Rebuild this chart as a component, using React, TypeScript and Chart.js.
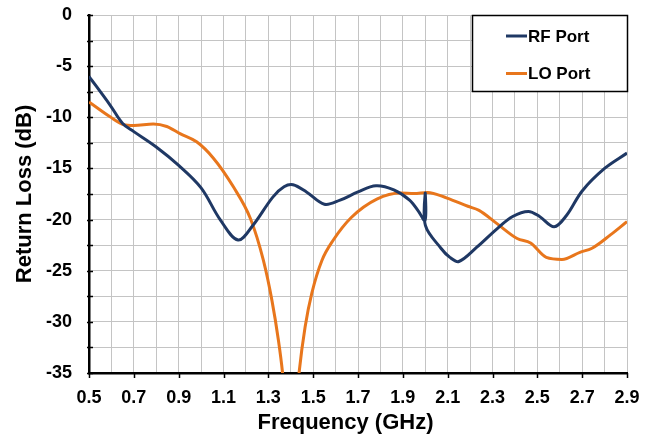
import React, { useEffect, useRef } from 'react';
import { Chart, registerables } from 'chart.js';

Chart.register(...registerables);

const seriesNames = ['RF Port', 'LO Port'];
const seriesColors = ['#1f3864', '#e8761c'];

const rfFreq = [0.5, 0.594, 0.65, 0.7, 0.8, 0.9, 1.0, 1.085, 1.165, 1.23, 1.32, 1.37, 1.41, 1.47, 1.55, 1.62, 1.7, 1.78, 1.86, 1.93, 1.97, 1.999, 2.0, 2.001, 2.07, 2.11, 2.15, 2.23, 2.32, 2.39, 2.46, 2.51, 2.575, 2.63, 2.7, 2.8, 2.9];
const rfLoss = [-6.0, -8.8, -10.6, -11.4, -12.9, -14.7, -16.9, -20.0, -22.0, -20.6, -17.8, -16.8, -16.6, -17.3, -18.5, -18.1, -17.3, -16.7, -17.1, -18.1, -19.2, -20.1, -17.4, -20.6, -22.8, -23.7, -24.1, -22.7, -20.9, -19.7, -19.2, -19.7, -20.7, -19.6, -17.2, -15.0, -13.5];

const loFreq = [0.5, 0.594, 0.653, 0.7, 0.787, 0.847, 0.906, 0.98, 1.055, 1.144, 1.22, 1.278, 1.316, 1.345, 1.363, 1.4, 1.4375, 1.464, 1.494, 1.539, 1.59, 1.67, 1.784, 1.89, 1.95, 2.01, 2.097, 2.19, 2.24, 2.32, 2.41, 2.47, 2.54, 2.61, 2.69, 2.744, 2.826, 2.9];
const loLoss = [-8.5, -9.95, -10.7, -10.8, -10.65, -10.9, -11.6, -12.4, -14.0, -16.8, -19.9, -24.0, -27.9, -31.8, -34.9, -44, -34.9, -30.5, -27.2, -24.0, -22.0, -19.8, -18.0, -17.4, -17.45, -17.35, -17.9, -18.7, -19.1, -20.4, -21.85, -22.3, -23.7, -23.9, -23.2, -22.8, -21.5, -20.2];

const xTickLabels = ['0.5', '0.7', '0.9', '1.1', '1.3', '1.5', '1.7', '1.9', '2.1', '2.3', '2.5', '2.7', '2.9'];
const yTickLabels = ['0', '-5', '-10', '-15', '-20', '-25', '-30', '-35'];
const xTitle = 'Frequency (GHz)';
const yTitle = 'Return Loss (dB)';

const FONT = '"Liberation Sans", Arial, Helvetica, sans-serif';

const extrasPlugin = {
  id: 'extras',
  afterDraw(chart: any) {
    const { ctx, chartArea, scales } = chart;
    const xs = scales.x;
    const ys = scales.y;
    ctx.save();
    // tick marks
    ctx.strokeStyle = '#000';
    ctx.lineWidth = 1.5;
    ctx.beginPath();
    for (let v = 0; v >= -35; v -= 2.5) {
      const y = Math.round(ys.getPixelForValue(v)) + 0.5;
      ctx.moveTo(chartArea.left - 2, y);
      ctx.lineTo(chartArea.left + 4, y);
    }
    for (let i = 0; i < xTickLabels.length; i++) {
      const x = Math.round(xs.getPixelForValue(parseFloat(xTickLabels[i]))) + 0.5;
      ctx.moveTo(x, chartArea.bottom);
      ctx.lineTo(x, chartArea.bottom + 5);
    }
    ctx.stroke();

    // x title
    ctx.fillStyle = '#000';
    ctx.font = `bold 22px ${FONT}`;
    ctx.textAlign = 'center';
    ctx.textBaseline = 'alphabetic';
    ctx.fillText(xTitle, (chartArea.left + chartArea.right) / 2 - 12.5, 429);

    // legend
    const bw = 155;
    const bh = 76;
    const bx = chartArea.right - bw;
    const by = chartArea.top;
    ctx.fillStyle = '#fff';
    ctx.fillRect(bx, by, bw, bh);
    ctx.strokeStyle = '#000';
    ctx.lineWidth = 1.5;
    ctx.strokeRect(bx + 0.5, by + 0.5, bw, bh);
    const rows = [21, 58.5];
    chart.data.datasets.forEach((ds: any, i: number) => {
      const yy = by + rows[i];
      ctx.strokeStyle = ds.borderColor;
      ctx.lineWidth = 3;
      ctx.beginPath();
      ctx.moveTo(bx + 34, yy);
      ctx.lineTo(bx + 55, yy);
      ctx.stroke();
      ctx.fillStyle = '#000';
      ctx.font = `bold 17px ${FONT}`;
      ctx.textAlign = 'left';
      ctx.textBaseline = 'middle';
      ctx.fillText(ds.label, bx + 56, yy + 1);
    });
    ctx.restore();
  },
};

export default function App() {
  const canvasRef = useRef<HTMLCanvasElement>(null);

  useEffect(() => {
    document.body.style.margin = '0';
    const canvas = canvasRef.current;
    if (!canvas) return;
    const chart = new Chart(canvas, {
      type: 'line',
      data: {
        datasets: [
          {
            label: seriesNames[0],
            data: rfFreq.map((f, i) => ({ x: f, y: rfLoss[i] })),
            borderColor: seriesColors[0],
            backgroundColor: seriesColors[0],
            borderWidth: 3,
            pointRadius: 0,
            tension: 0.35,
            fill: false,
          },
          {
            label: seriesNames[1],
            data: loFreq.map((f, i) => ({ x: f, y: loLoss[i] })),
            borderColor: seriesColors[1],
            backgroundColor: seriesColors[1],
            borderWidth: 3,
            pointRadius: 0,
            cubicInterpolationMode: 'monotone',
            fill: false,
          },
        ],
      },
      options: {
        animation: false,
        responsive: true,
        maintainAspectRatio: false,
        layout: { padding: { top: 15, right: 31, bottom: 0, left: 0 } },
        plugins: {
          legend: { display: false },
          tooltip: { enabled: false },
        },
        scales: {
          x: {
            type: 'linear',
            min: 0.5,
            max: 2.9,
            afterFit(scale: any) {
              scale.height = 67;
            },
            ticks: {
              stepSize: 0.1,
              autoSkip: false,
              maxRotation: 0,
              padding: 14,
              color: '#000',
              font: { family: FONT, size: 18, weight: 'bold' },
              callback(value: any) {
                const k = Math.round((Number(value) - 0.5) * 10);
                return k % 2 === 0 ? xTickLabels[k / 2] : '';
              },
            },
            grid: {
              color: '#c4c4c4',
              lineWidth: 1,
              drawTicks: false,
            },
            border: { color: '#000', width: 2.5 },
          },
          y: {
            type: 'linear',
            min: -35,
            max: 0,
            afterFit(scale: any) {
              scale.width = 89;
            },
            ticks: {
              stepSize: 2.5,
              autoSkip: false,
              padding: 0,
              color: '#000',
              font: { family: FONT, size: 18, weight: 'bold' },
              callback(value: any) {
                const r = Math.round(Number(value) * 10) / 10;
                if (Math.abs(r % 5) > 1e-6) return '';
                return yTickLabels[Math.round(-r / 5)];
              },
            },
            grid: {
              color: '#c4c4c4',
              lineWidth: 1,
              drawTicks: true,
              tickLength: 17,
              tickColor: 'rgba(0,0,0,0)',
            },
            border: { color: '#000', width: 2.5 },
            title: {
              display: true,
              text: yTitle,
              color: '#000',
              font: { family: FONT, size: 22, weight: 'bold' },
              padding: { top: 12, bottom: 0 },
            },
          },
        },
      },
      plugins: [extrasPlugin],
    } as any);
    return () => chart.destroy();
  }, []);

  return (
    <div style={{ width: 658, height: 440, position: 'relative' }}>
      <canvas ref={canvasRef} />
    </div>
  );
}
